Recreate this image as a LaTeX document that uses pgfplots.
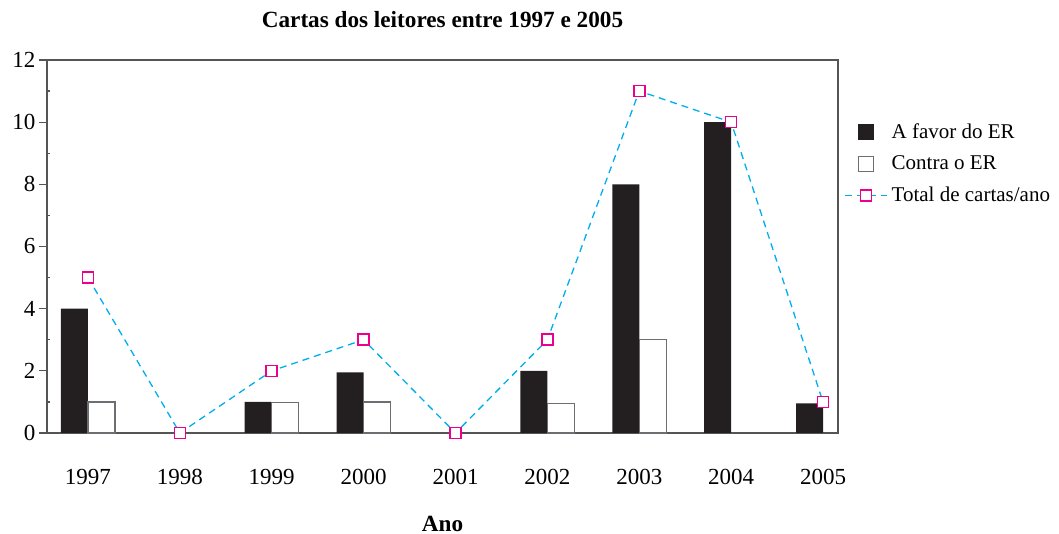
\documentclass[border=0pt,11pt]{standalone}
\usepackage{pgfplots}
\pgfplotsset{compat=1.18}
\usepackage{fontspec}
\setmainfont{Liberation Serif}
\definecolor{barblack}{HTML}{231F20}
\definecolor{cyanline}{HTML}{00AEEF}
\definecolor{magline}{HTML}{EC008C}
\definecolor{outl}{HTML}{6D6E71}
\definecolor{axcol}{HTML}{555555}
\begin{document}
\begin{tikzpicture}
\begin{axis}[
  scale only axis, width=395.5pt, height=186.5pt,
  xmin=-0.446, xmax=8.163, ymin=0, ymax=12,
  clip=false,
  xtick={0,1,2,3,4,5,6,7,8},
  xticklabels={1997,1998,1999,2000,2001,2002,2003,2004,2005},
  ytick={0,2,4,6,8,10,12}, minor ytick={1,3,5,7,9,11},
  ytick pos=left,
  tick align=outside, major tick length=4pt, minor tick length=1.5pt,
  x tick style={draw=none},
  y tick style={axcol, line width=0.6pt},
  minor y tick style={xshift=1.5pt},
  axis line style={axcol, line width=0.8pt},
  /pgf/number format/assume math mode=true,
  tick label style={font=\fontsize{11.5}{14}\selectfont},
  xticklabel style={anchor=center, yshift=-18pt},
  yticklabel style={anchor=east, xshift=2pt},
  title={\textbf{Cartas dos leitores entre 1997 e 2005}},
  title style={at={(0.5,1)}, anchor=center, yshift=14pt, font=\fontsize{11.6}{14}\selectfont},
  xlabel={\textbf{Ano}},
  xlabel style={at={(axis description cs:0.5,0)}, anchor=center, yshift=-45.5pt, font=\fontsize{11.6}{14}\selectfont},
  legend style={at={(1,0.853)}, anchor=north west, draw=none, fill=none,
    row sep=3pt, font=\fontsize{10.5}{13}\selectfont,
    /tikz/every even column/.style={column sep=5pt}},
  legend cell align=left,
]
\addplot[ybar, bar width=13.5pt, bar shift=-6.75pt, fill=barblack, draw=none,
  legend image code/.code={\fill[barblack] (10.5pt-4pt,-4pt) rectangle (10.5pt+4pt,4pt);}]
  coordinates {(0,4) (2,1) (3,1.95) (5,2) (6,8) (7,10) (8,0.95)};
\addlegendentry{A favor do ER}
\addplot[ybar, bar width=13.5pt, bar shift=6.75pt, fill=white, draw=outl, line width=0.6pt,
  legend image code/.code={\draw[outl, fill=white, line width=0.6pt] (10.5pt-3.75pt,-3.75pt) rectangle (10.5pt+3.75pt,3.75pt);}]
  coordinates {(0,1) (2,0.97) (3,1) (5,0.95) (6,3)};
\addlegendentry{Contra o ER}
\addplot[color=cyanline, dash pattern=on 3.5pt off 2.5pt, line width=0.65pt,
  mark=square*, mark size=2.75pt,
  mark options={solid, draw=magline, fill=white, line width=0.8pt},
  legend image code/.code={
    \draw[cyanline, dash pattern=on 3.5pt off 2.5pt, line width=0.65pt] (0pt,0pt) -- (21pt,0pt);
    \draw[solid, magline, fill=white, line width=0.8pt] (10.5pt-2.75pt,-2.75pt) rectangle (10.5pt+2.75pt,2.75pt);}]
  coordinates {(0,5) (1,0) (2,2) (3,3) (4,0) (5,3) (6,11) (7,10) (8,1)};
\addlegendentry{Total de cartas/ano}
\coordinate (bl) at (rel axis cs:0,0);
\coordinate (tr) at (rel axis cs:1,1);
\end{axis}
\pgfresetboundingbox
\path (bl) ++(-23.5pt,-50.5pt) coordinate (BL);
\path (tr) ++(110.5pt,30pt) coordinate (TR);
\path[use as bounding box] (BL) rectangle (TR);
\end{tikzpicture}
\end{document}
